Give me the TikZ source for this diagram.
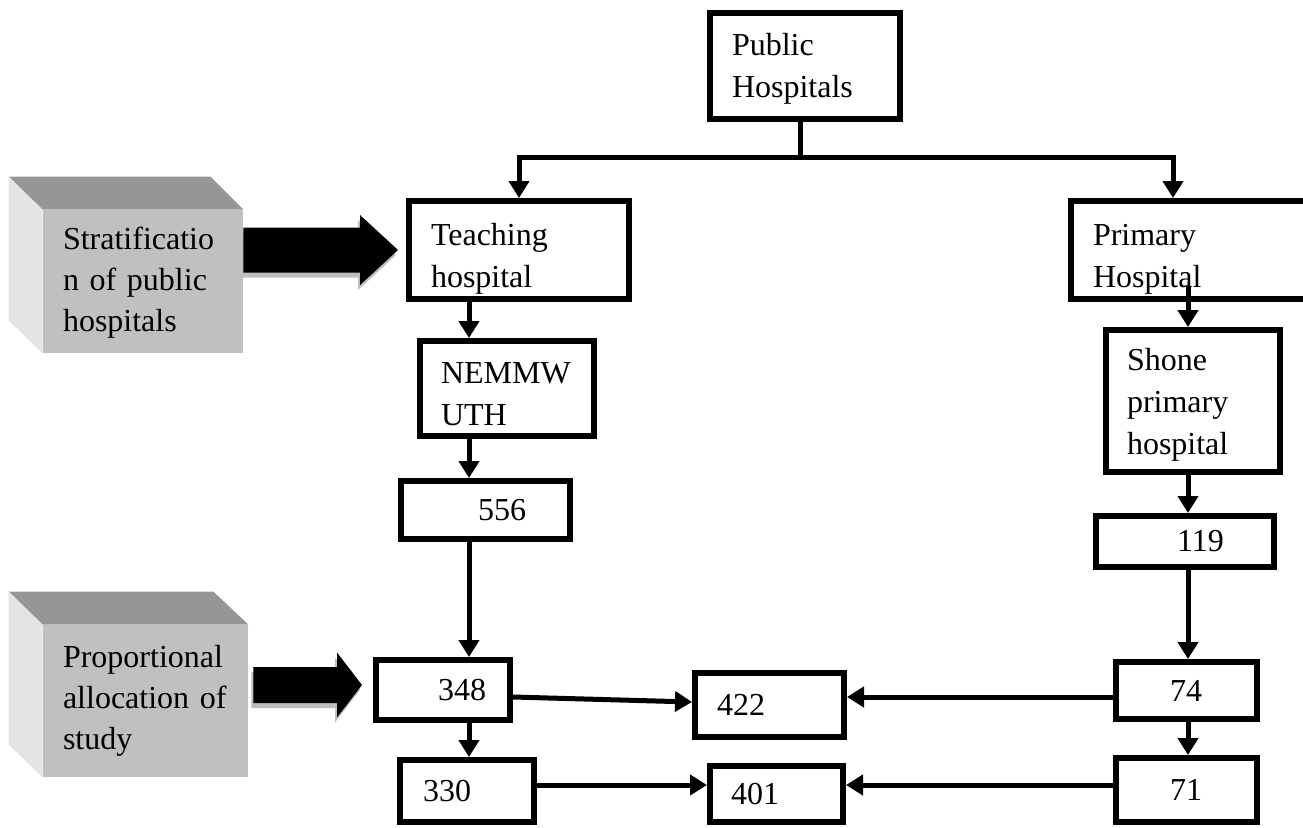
\documentclass[tikz,border=0pt]{standalone}
\usepackage{fontspec}
\setmainfont{Liberation Serif}
\usetikzlibrary{arrows.meta,calc}
\newlength\pxu
\setlength\pxu{0.5pt}
\newcommand\insetx[1]{\hspace*{#1\pxu}}
\newcommand\firstht[1]{\rule{0pt}{#1pt}}
\definecolor{cubefront}{HTML}{C0C0C0}
\definecolor{cubetop}{HTML}{969696}
\definecolor{cubeside}{HTML}{E4E4E4}
\definecolor{arrshadow}{HTML}{BEBEBE}
\newcommand\blkarrow[6]{%
  \fill[#6] ($(#1)+(0,-#3)$) -- ($(#2)+(-#5,-#3)$) -- ($(#2)+(-#5,-#4)$) -- (#2)
    -- ($(#2)+(-#5,#4)$) -- ($(#2)+(-#5,#3)$) -- ($(#1)+(0,#3)$) -- cycle;}
\tikzset{
  sz/.style 2 args={minimum width=#1, text width=#1, minimum height=#2},
  box/.style={draw=black, line width=3pt, fill=white, inner xsep=0pt, inner ysep=0pt,
    align=left, font=\fontsize{16}{21}\selectfont},
  cubeface/.style={fill=cubefront, inner xsep=0pt, inner ysep=0pt, align=left,
    font=\fontsize{16}{20.5}\selectfont},
  conn/.style={line width=2.5pt, line join=miter},
  arr/.style={conn, -{Triangle[width=10pt,length=8.5pt]}},
}
\begin{document}
\begin{tikzpicture}[x=0.5pt,y=-0.5pt]
\useasboundingbox (0,0) rectangle (1303,827);

% ---- cubes ----
\node[cubeface, sz={100pt}{71.5pt}] (strat) at (143,281.5)
  {\insetx{20}\firstht{12.3}Stratificatio\\\insetx{20}n of public\\\insetx{20}hospitals};
\fill[cubetop] (strat.north west) -- ($(strat.north west)+(-34,-33)$)
  -- ($(strat.north east)+(-33,-33)$) -- (strat.north east) -- cycle;
\fill[cubeside] (strat.north west) -- ($(strat.north west)+(-34,-33)$)
  -- ($(strat.south west)+(-34,-33)$) -- (strat.south west) -- cycle;

\node[cubeface, sz={102.5pt}{76pt}] (prop) at (145.5,701)
  {\insetx{20}Proportional\\\insetx{20}allocation of\\\insetx{20}study};
\fill[cubetop] (prop.north west) -- ($(prop.north west)+(-34,-33)$)
  -- ($(prop.north east)+(-35,-33)$) -- (prop.north east) -- cycle;
\fill[cubeside] (prop.north west) -- ($(prop.north west)+(-34,-33)$)
  -- ($(prop.south west)+(-34,-33)$) -- (prop.south west) -- cycle;

% ---- boxes ----
\node[box, sz={95pt}{53pt}] (pub) at (805,66)
  {\insetx{22}\firstht{13.9}Public\\\insetx{22}Hospitals};
\node[box, sz={110pt}{49pt}] (teach) at (519,250)
  {\insetx{22}\firstht{19.9}Teaching\\\insetx{22}hospital};
\node[box, sz={125pt}{49pt}] (prim) at (1196,250)
  {\insetx{22}\firstht{19.9}Primary\\\insetx{22}Hospital};
\node[box, sz={87pt}{47.5pt}] (nem) at (507,388.5)
  {\insetx{21}\firstht{16.6}NEMMW\\\insetx{21}UTH};
\node[box, sz={84.5pt}{29pt}] (b556) at (485.5,510) {\insetx{77}556};
\node[box, sz={87pt}{71pt}] (shone) at (1193,401)
  {\insetx{21}\firstht{14.9}Shone\\\insetx{21}primary\\\insetx{21}hospital};
\node[box, sz={89pt}{25.5pt}] (b119) at (1185,541.5) {\insetx{81}119};
\node[box, sz={67pt}{30pt}] (b348) at (443,690) {\insetx{62}348};
\node[box, sz={74.5pt}{32pt}] (b422) at (769.5,705) {\insetx{22}422};
\node[box, sz={70.5pt}{28.5pt}] (b74) at (1186.5,690.5) {\insetx{54}74};
\node[box, sz={67pt}{31pt}] (b330) at (467,791) {\insetx{23}330};
\node[box, sz={66.5pt}{28pt}] (b401) at (776.5,794) {\insetx{21}401};
\node[box, sz={70.5pt}{32pt}] (b71) at (1186.5,790) {\insetx{54}71};

% ---- helper coordinates ----
\coordinate (j) at (800,157);
\coordinate (pT) at (1173,0);
\coordinate (cL) at (469,0);
\coordinate (cR) at (1188,0);
\coordinate (r1) at (0,697);
\coordinate (r2) at (0,785);
\coordinate (y1) at (0,250);
\coordinate (y2) at (0,685);

% ---- connectors ----
\draw[conn] (pub.south -| j) -- (j);
\draw[arr] (j) -| (teach.north);
\draw[arr] (j) -| (prim.north -| pT);
\draw[arr] (teach.south -| cL) -- (nem.north -| cL);
\draw[arr] (nem.south -| cL) -- (b556.north -| cL);
\draw[arr] (b556.south -| cL) -- (b348.north -| cL);
\draw[arr] (b348.south -| cL) -- (b330.north -| cL);
\draw[arr] ($(prim.south -| cR)+(0,-16)$) -- (shone.north -| cR);
\draw[arr] (shone.south -| cR) -- (b119.north -| cR);
\draw[arr] (b119.south -| cR) -- (b74.north -| cR);
\draw[arr] (b74.south -| cR) -- (b71.north -| cR);
\draw[arr] ($(b348.east)+(0,7)$) -- ($(b422.west)+(0,-3)$);
\draw[arr] (b74.west |- r1) -- (b422.east |- r1);
\draw[arr] (b330.east |- r2) -- (b401.west |- r2);
\draw[arr] (b71.west |- r2) -- (b401.east |- r2);

% ---- block arrows ----
\coordinate (A1) at (strat.east |- y1);
\coordinate (A1t) at ($(teach.west |- y1)+(-8,0)$);
\coordinate (A1s) at ($(A1)+(-2,5)$);
\coordinate (A1ts) at ($(A1t)+(-2,5)$);
\blkarrow{A1s}{A1ts}{22.5}{35}{38}{arrshadow}
\blkarrow{A1}{A1t}{22.5}{35}{38}{black}

\coordinate (A2) at ($(prop.east |- y2)+(5,0)$);
\coordinate (A2t) at ($(b348.west |- y2)+(-11,0)$);
\coordinate (A2s) at ($(A2)+(-2,5)$);
\coordinate (A2ts) at ($(A2t)+(-2,5)$);
\blkarrow{A2s}{A2ts}{18}{32.5}{25}{arrshadow}
\blkarrow{A2}{A2t}{18}{32.5}{25}{black}
\end{tikzpicture}
\end{document}
